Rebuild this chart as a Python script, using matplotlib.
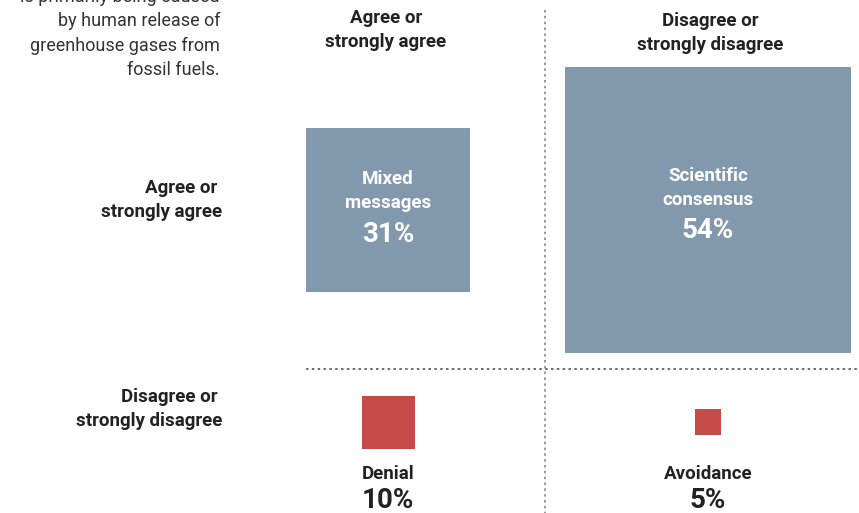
import matplotlib
matplotlib.use("Agg")
import matplotlib.pyplot as plt
from matplotlib.patches import Rectangle

# ---- data ----
col_labels = ["Agree or\nstrongly agree", "Disagree or\nstrongly disagree"]
row_labels = ["Agree or \nstrongly agree", "Disagree or \nstrongly disagree"]
names = [["Mixed\nmessages", "Scientific\nconsensus"], ["Denial", "Avoidance"]]
values = [[31, 54], [10, 5]]
intro = "is primarily being caused\nby human release of\ngreenhouse gases from\nfossil fuels."

# ---- style ----
W, H = 859, 513
BLUE = "#8299ad"
RED = "#c44b48"
TXT = "#222222"
FONT = ["Roboto", "DejaVu Sans"]
px_per_pct = 5.3
col_x = [388, 708]
row_y = [210, 422]
LS = 1.42

fig = plt.figure(figsize=(W / 100, H / 100), dpi=100)
ax = fig.add_axes([0, 0, 1, 1])
ax.set_xlim(0, W)
ax.set_ylim(H, 0)
ax.axis("off")

# grid lines
ax.plot([545, 545], [10, H], ls=(0, (1.5, 2)), color="#888888", lw=1.2)
ax.plot([306, W], [369, 369], ls=(0, (1.5, 2)), color="#555555", lw=1.2)

# intro text
ax.text(220, 79, intro, ha="right", va="bottom", fontsize=13, color="#333333",
        family=FONT, linespacing=1.45)

# headers
hdr_y = [30, 33]
for j, lab in enumerate(col_labels):
    ax.text(col_x[j] - (2 if j == 0 else -2), hdr_y[j], lab, ha="center", va="center",
            fontsize=13.5, fontweight="bold", color=TXT, family=FONT, linespacing=LS)
for i, lab in enumerate(row_labels):
    ax.text(222, row_y[i] - 10 + (0 if i == 0 else -3), lab, ha="right", va="center",
            fontsize=13.5, fontweight="bold", color=TXT, family=FONT, linespacing=LS)

# squares
for i in range(2):
    for j in range(2):
        v = values[i][j]
        s = v * px_per_pct
        cx, cy = col_x[j], row_y[i]
        color = BLUE if i == 0 else RED
        ax.add_patch(Rectangle((cx - s / 2, cy - s / 2), s, s, facecolor=color,
                               edgecolor="none"))
        if i == 0:
            dy = 0 if j == 0 else -3
            ax.text(cx, cy - 19 + dy, names[i][j], ha="center", va="center", color="white",
                    fontsize=13.5, fontweight="bold", family=FONT, linespacing=LS)
            ax.text(cx, cy + 24 + dy, f"{v}%", ha="center", va="center", color="white",
                    fontsize=20, fontweight="bold", family=FONT)
        else:
            ax.text(cx, 474, names[i][j], ha="center", va="center", color=TXT,
                    fontsize=13.5, fontweight="bold", family=FONT)
            ax.text(cx, 500, f"{v}%", ha="center", va="center", color=TXT,
                    fontsize=20, fontweight="bold", family=FONT)

fig.savefig("out.png", dpi=100, facecolor="white")
